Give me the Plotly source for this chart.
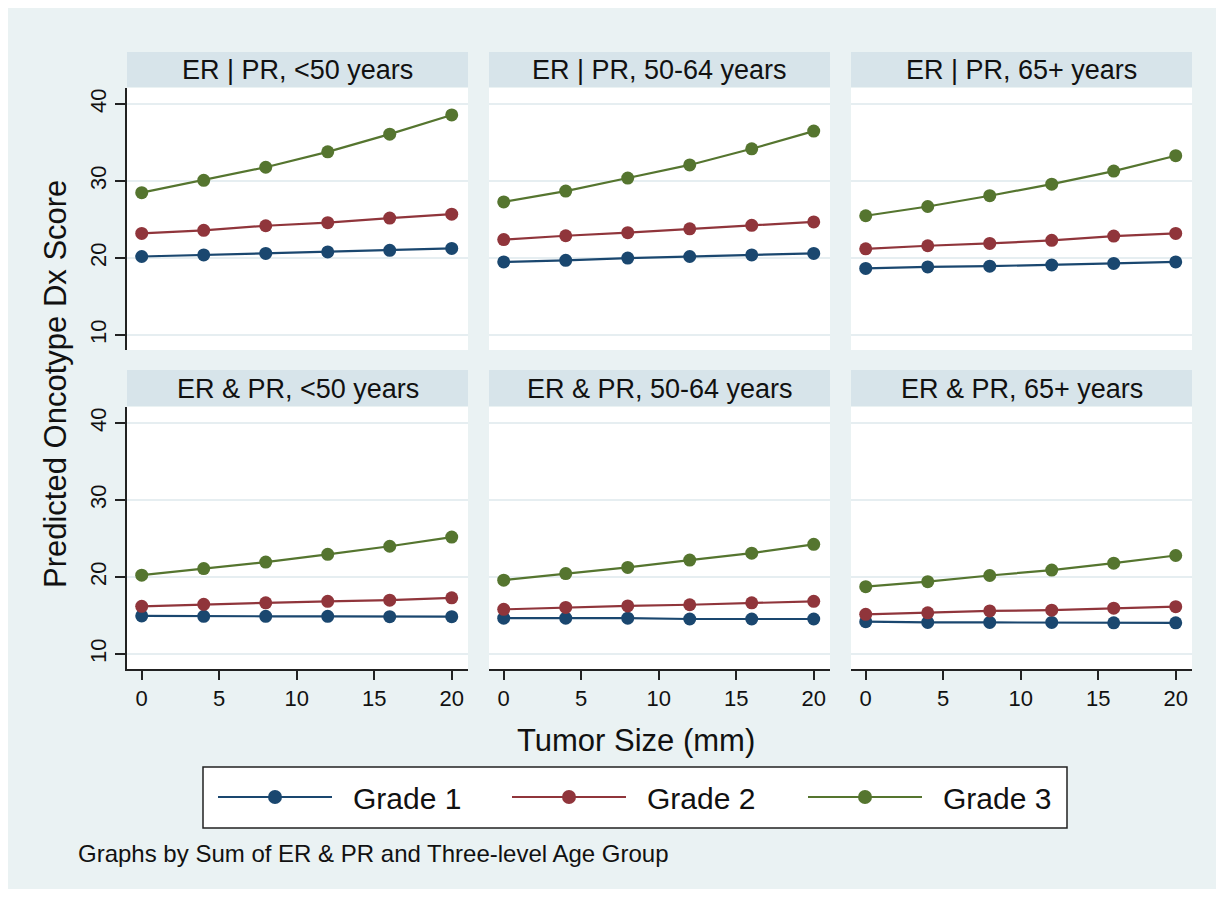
import plotly.graph_objects as go

# The page body adds an 8px margin around the figure; size the figure to fit the window.
W, H = 1208, 881
OFF = 8

tumor_size = [0, 4, 8, 12, 16, 20]
panel_titles = [
    "ER | PR, <50 years", "ER | PR, 50-64 years", "ER | PR, 65+ years",
    "ER & PR, <50 years", "ER & PR, 50-64 years", "ER & PR, 65+ years",
]
grade_names = ["Grade 1", "Grade 2", "Grade 3"]
grade_colors = ["#1a476f", "#90353b", "#55752f"]

# values per panel (6 panels, row-major)
grade1 = [
    [20.2, 20.4, 20.6, 20.8, 21.0, 21.25],
    [19.5, 19.7, 20.0, 20.2, 20.4, 20.6],
    [18.65, 18.85, 18.95, 19.1, 19.3, 19.5],
    [14.95, 14.9, 14.9, 14.9, 14.85, 14.85],
    [14.65, 14.65, 14.65, 14.55, 14.55, 14.55],
    [14.2, 14.1, 14.1, 14.1, 14.05, 14.05],
]
grade2 = [
    [23.2, 23.6, 24.2, 24.6, 25.2, 25.7],
    [22.4, 22.9, 23.3, 23.8, 24.25, 24.7],
    [21.2, 21.6, 21.9, 22.3, 22.85, 23.2],
    [16.2, 16.45, 16.65, 16.85, 17.0, 17.3],
    [15.8, 16.05, 16.25, 16.4, 16.65, 16.85],
    [15.15, 15.35, 15.6, 15.7, 15.95, 16.15],
]
grade3 = [
    [28.5, 30.1, 31.8, 33.8, 36.1, 38.6],
    [27.3, 28.7, 30.4, 32.1, 34.2, 36.5],
    [25.5, 26.7, 28.1, 29.6, 31.3, 33.3],
    [20.25, 21.1, 21.95, 22.95, 24.0, 25.2],
    [19.6, 20.45, 21.25, 22.2, 23.1, 24.25],
    [18.75, 19.4, 20.2, 20.9, 21.8, 22.8],
]
x_ticks = [0, 5, 10, 15, 20]
y_ticks = [10, 20, 30, 40]

x_title = "Tumor Size (mm)"
y_title = "Predicted Oncotype Dx Score"
note = "Graphs by Sum of ER & PR and Three-level Age Group"

FONT = "Arial, Liberation Sans, sans-serif"
BG = "#eaf2f3"
STRIP = "#d7e4ea"
GRID = "#e6eef1"


def px(x):
    return (x - OFF) / W


def py(y):
    return 1 - (y - OFF) / H


cols = [(127, 468), (489, 830), (851, 1192)]
rows = [(88, 350), (407, 669)]
strips = [(52, 87), (370, 406)]

fig = go.Figure()
layout = dict(
    width=W, height=H,
    margin=dict(l=0, r=0, t=0, b=0),
    paper_bgcolor=BG, plot_bgcolor="white",
    showlegend=False,
    font=dict(family=FONT, color="black"),
)
shapes = []
annotations = []

for i in range(6):
    r, c = divmod(i, 3)
    n = "" if i == 0 else str(i + 1)
    xa = dict(
        domain=[px(cols[c][0]), px(cols[c][1])],
        range=[-0.95, 21.05], tickvals=x_ticks, showgrid=False, zeroline=False,
        anchor="y" + n, fixedrange=True,
    )
    if r == 1:
        xa.update(showline=True, linecolor="#222", linewidth=1.5, ticks="outside",
                  ticklen=9, tickwidth=1.5, tickcolor="#222", showticklabels=True,
                  tickfont=dict(size=22, family=FONT, color="#111"))
    else:
        xa.update(showline=False, ticks="", showticklabels=False)
    ya = dict(
        domain=[py(rows[r][1]), py(rows[r][0])],
        range=[8.05, 42.1], tickvals=y_ticks, showgrid=True, gridcolor=GRID,
        gridwidth=2, zeroline=False, anchor="x" + n, fixedrange=True,
    )
    if c == 0:
        ya.update(showline=True, linecolor="#222", linewidth=1.5, ticks="outside",
                  ticklen=10, tickwidth=1.5, tickcolor="#222", showticklabels=True,
                  tickangle=-90, tickfont=dict(size=22, family=FONT, color="#111"))
    else:
        ya.update(showline=False, ticks="", showticklabels=False)
    layout["xaxis" + n] = xa
    layout["yaxis" + n] = ya

    for g, vals in enumerate([grade1, grade2, grade3]):
        fig.add_trace(go.Scatter(
            x=tumor_size, y=vals[i], mode="lines+markers", name=grade_names[g],
            line=dict(color=grade_colors[g], width=2.2),
            marker=dict(color=grade_colors[g], size=13),
            xaxis="x" + n, yaxis="y" + n, showlegend=False,
        ))

    # strip
    shapes.append(dict(type="rect", xref="paper", yref="paper", layer="below",
                       x0=px(cols[c][0]), x1=px(cols[c][1]),
                       y0=py(strips[r][1]), y1=py(strips[r][0]),
                       fillcolor=STRIP, line=dict(width=0)))
    annotations.append(dict(text=panel_titles[i], xref="paper", yref="paper",
                            x=px((cols[c][0] + cols[c][1]) / 2),
                            y=py((strips[r][0] + strips[r][1]) / 2 + 1),
                            xanchor="center", yanchor="middle", showarrow=False,
                            font=dict(size=27, family=FONT, color="#111")))

# axis titles
annotations.append(dict(text=y_title, xref="paper", yref="paper", x=px(55), y=py(384),
                        textangle=-90, xanchor="center", yanchor="middle", showarrow=False,
                        font=dict(size=31, family=FONT, color="#111")))
annotations.append(dict(text=x_title, xref="paper", yref="paper", x=px(636), y=py(740),
                        xanchor="center", yanchor="middle", showarrow=False,
                        font=dict(size=31, family=FONT, color="#111")))
annotations.append(dict(text=note, xref="paper", yref="paper", x=px(76), y=py(853),
                        xanchor="left", yanchor="middle", showarrow=False,
                        font=dict(size=24, family=FONT, color="#111")))

# legend box
shapes.append(dict(type="rect", xref="paper", yref="paper", layer="above",
                   x0=px(203), x1=px(1067), y0=py(828), y1=py(767),
                   fillcolor="white", line=dict(color="#222", width=1.5)))
leg_x = [218, 512, 808]
for g in range(3):
    x0 = leg_x[g]
    shapes.append(dict(type="line", xref="paper", yref="paper", layer="above",
                       x0=px(x0), x1=px(x0 + 114), y0=py(797), y1=py(797),
                       line=dict(color=grade_colors[g], width=2.2)))
    cx = x0 + 57
    shapes.append(dict(type="circle", xref="paper", yref="paper", layer="above",
                       x0=px(cx - 7), x1=px(cx + 7), y0=py(797 + 7), y1=py(797 - 7),
                       fillcolor=grade_colors[g], line=dict(color=grade_colors[g], width=0)))
    annotations.append(dict(text=grade_names[g], xref="paper", yref="paper",
                            x=px(x0 + 133), y=py(798), xanchor="left", yanchor="middle",
                            showarrow=False, font=dict(size=30, family=FONT, color="#111")))

layout["shapes"] = shapes
layout["annotations"] = annotations
fig.update_layout(**layout)
fig.write_html("out.html")
